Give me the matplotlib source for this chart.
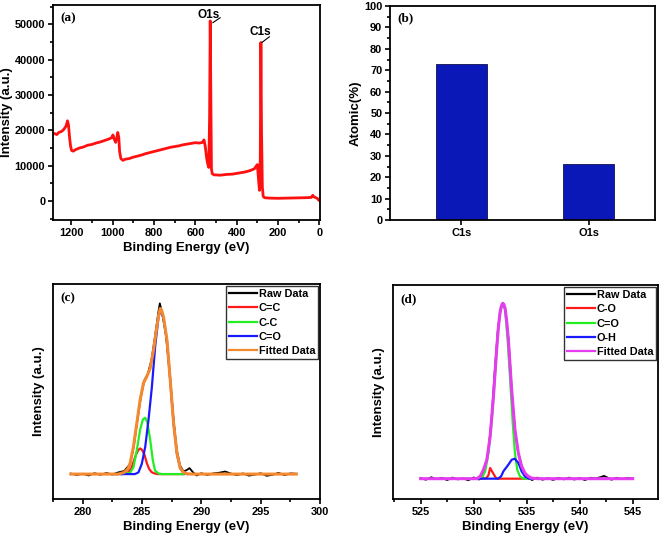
import matplotlib.pyplot as plt
from matplotlib.ticker import MultipleLocator

# ---- (a) survey spectrum
survey_energy = [1290, 1280, 1270, 1260, 1250, 1240, 1232, 1225, 1218, 1213, 1208, 1203, 1198,
                 1190, 1180, 1160, 1140, 1120, 1100, 1080, 1060, 1040, 1020, 1005, 998, 992,
                 985, 980, 975, 970, 966, 960, 950, 940, 920, 900, 880, 860, 840, 820, 800,
                 780, 760, 740, 720, 700, 680, 660, 640, 620, 600, 580, 565, 558, 552, 545,
                 540, 535, 531, 528, 525, 522, 518, 510, 480, 450, 420, 390, 360, 335, 315,
                 305, 300, 297, 293, 290, 286, 283, 280, 276, 272, 265, 240, 200, 160, 120,
                 80, 50, 40, 32, 28, 20, 10, 3, -2]
survey_counts = [18900, 19100, 18800, 19400, 19600, 20000, 20600, 21200, 22700, 21500, 18000,
                 15500, 14300, 14100, 14500, 15000, 15300, 15800, 16000, 16400, 16700, 17100,
                 17500, 17900, 18700, 17500, 16600, 17800, 19400, 18000, 14000, 12000, 11500,
                 11800, 12000, 12400, 12700, 13000, 13400, 13700, 14000, 14300, 14600, 14900,
                 15200, 15400, 15600, 15900, 16100, 16300, 16500, 16400, 16600, 17300, 15500,
                 12000, 10500, 9500, 24000, 51000, 30000, 9000, 7700, 7400, 7300, 7500, 7600,
                 7900, 8200, 8600, 9100, 9900, 10300, 8000, 5000, 3000, 12000, 44900, 20000,
                 4000, 1300, 900, 800, 750, 800, 850, 900, 950, 1000, 1600, 1200, 1000, 700,
                 200, 0]

# ---- (b) atomic percentages
elements = ['C1s', 'O1s']
atomic_pct = [73.1, 26.2]

# ---- (c) C1s high resolution
c_raw_e = [279.0, 279.5, 280.0, 280.5, 281.0, 281.5, 282.0, 282.5, 283.0, 283.5, 284.0, 284.3,
           284.6, 284.9, 285.2, 285.5, 285.8, 286.1, 286.4, 286.5, 286.7, 287.0, 287.3, 287.6,
           287.9, 288.2, 288.5, 288.8, 289.0, 289.3, 289.6, 290.0, 290.5, 291.0, 291.5, 292.0,
           292.5, 293.0, 293.5, 294.0, 294.5, 295.0, 295.5, 296.0, 296.5, 297.0, 297.5, 298.0]
c_raw_i = [0.3, -0.5, 0.2, -0.8, 0.5, -0.4, 0.6, -0.2, 1.0, 1.8, 6.0, 16.0, 31.0, 45.0, 55.0,
           59.0, 67.0, 81.0, 96.0, 100.0, 94.0, 82.0, 62.0, 36.0, 15.0, 5.0, 1.5, 2.5, 3.5,
           1.0, -0.8, 0.5, -0.5, 0.4, 0.8, 1.5, 0.3, -0.6, 0.4, -0.9, -0.3, 0.5, -1.0, -0.4,
           0.7, -0.6, 0.4, 0.2]
c_cc_e = [283.3, 283.8, 284.1, 284.3, 284.5, 284.7, 284.85, 285.0, 285.2, 285.4, 285.6, 285.8,
          286.0, 286.3, 288.5]
c_cc_i = [0, 0.8, 3.5, 7.5, 11.5, 14.3, 15.0, 14.2, 11.5, 6.5, 3.0, 1.2, 0.5, 0, 0]
c_c_c_e = [283.3, 284.0, 284.28, 284.56, 284.84, 285.07, 285.27, 285.46, 285.69, 285.91, 286.1,
           286.4, 286.7, 288.5]
c_c_c_i = [0, 0.8, 4, 14, 26, 32, 33, 30, 20, 8, 2, 0.3, 0, 0]
c_co_e = [282.5, 284.4, 284.7, 284.98, 285.27, 285.55, 285.83, 286.11, 286.39, 286.53, 286.81,
          287.1, 287.38, 287.66, 287.94, 288.22, 288.5, 288.8]
c_co_i = [0, 0, 1, 6, 16, 32, 51, 75, 92, 96, 91.5, 78, 54.5, 29.5, 12, 3.3, 0.8, 0]
c_fit_e = [279.0, 283.0, 283.5, 283.8, 284.0, 284.28, 284.56, 284.84, 285.12, 285.41, 285.69,
           285.97, 286.25, 286.4, 286.53, 286.65, 286.81, 287.1, 287.38, 287.66, 287.94, 288.22,
           288.5, 288.8, 289.2, 298.0]
c_fit_i = [0, 0, 1.0, 3.0, 6.4, 16.2, 29.8, 43.5, 53.3, 57.2, 62, 72.7, 86.4, 93, 97, 96, 92,
           78.5, 55, 29.8, 12.3, 3.5, 1.0, 0.2, 0, 0]

# ---- (d) O1s high resolution
o_raw_e = [525.0, 525.5, 526.0, 526.5, 527.0, 527.5, 528.0, 528.5, 529.0, 529.5, 530.0, 530.5,
           530.8, 531.1, 531.4, 531.7, 532.0, 532.3, 532.6, 532.8, 533.0, 533.3, 533.6, 533.9,
           534.2, 534.5, 534.8, 535.1, 535.5, 536.0, 536.5, 537.0, 537.5, 538.0, 538.5, 539.0,
           539.5, 540.0, 540.5, 541.0, 541.5, 542.0, 542.3, 542.7, 543.0, 543.5, 544.0, 544.5,
           545.0]
o_raw_i = [0.3, -0.6, 0.8, -0.3, 0.5, -0.8, 0.6, -0.4, 0.2, -0.9, 0.7, -0.5, 1.5, 6, 16, 35,
           62, 86, 98, 100, 96, 79, 50, 28, 15, 8, 3.5, 1.5, -0.8, 0.6, -0.6, 0.3, -0.7, 0.5,
           -0.4, 0.6, -0.5, 0.4, -0.8, 0.5, 0.2, 0.9, 1.6, 0.4, -0.6, 0.5, -0.3, 0.4, 0.1]
o_c_o_e = [530.5, 531.2, 531.4, 531.56, 531.8, 532.12, 532.3, 534.9]
o_c_o_i = [0, 0.3, 2.0, 6.1, 3.5, 0.3, 0, 0]
o_c_eq_o_e = [530.3, 530.78, 531.09, 531.4, 531.72, 532.03, 532.34, 532.5, 532.75, 532.97,
              533.2, 533.44, 533.69, 533.9, 534.12, 534.37, 534.7, 535.5]
o_c_eq_o_i = [0, 0.4, 4.2, 14.6, 33.6, 60.2, 86.8, 95, 99.6, 96.5, 80, 57, 31.7, 14.6, 5.1,
              1.3, 0, 0]
o_oh_e = [530.5, 532.3, 532.59, 532.81, 533.28, 533.59, 533.88, 534.22, 534.53, 534.84, 535.2,
          536.0]
o_oh_i = [0, 0, 1.3, 4.2, 8.0, 10.8, 11.4, 9.0, 4.2, 1.3, 0, 0]
o_fit_e = [525.0, 530.3, 530.62, 530.93, 531.25, 531.56, 531.87, 532.19, 532.35, 532.5, 532.62,
           532.75, 532.86, 532.97, 533.12, 533.28, 533.59, 533.9, 534.22, 534.53, 534.84,
           535.15, 535.5, 536.0, 545.0]
o_fit_i = [0, 0, 1.3, 5.1, 10.8, 24.1, 46.8, 75.3, 87, 95.2, 98.5, 100, 99.3, 97.1, 90, 79.1,
           50.6, 27.9, 14.6, 7.0, 3.2, 1.3, 0.3, 0, 0]

plt.rcParams['font.family'] = ['Liberation Sans', 'DejaVu Sans']
plt.rcParams['font.weight'] = 'bold'
plt.rcParams['axes.labelweight'] = 'bold'
plt.rcParams['axes.linewidth'] = 1.3

fig = plt.figure(figsize=(6.61, 5.34), dpi=100)
ax_a = fig.add_axes([0.0802, 0.588, 0.404, 0.4026])
ax_b = fig.add_axes([0.590, 0.588, 0.401, 0.4007])
ax_c = fig.add_axes([0.0802, 0.0655, 0.404, 0.4026])
ax_d = fig.add_axes([0.5946, 0.0655, 0.401, 0.4007])


def style(ax):
    ax.tick_params(which='both', direction='out', top=False, right=False, width=1.2,
                   labelsize=7.9, pad=2)
    ax.tick_params(which='major', length=3.5)
    ax.tick_params(which='minor', length=2)


def tag(ax, s, dy=0.035):
    ax.text(0.026, 1 - dy, s, transform=ax.transAxes, ha='left', va='top',
            family='Liberation Serif', weight='bold', fontsize=9.5)


# (a)
ax_a.plot(survey_energy, survey_counts, color='#ff1010', lw=2.0)
ax_a.set_xlim(1288, -3)
ax_a.set_ylim(-5400, 55500)
ax_a.xaxis.set_major_locator(MultipleLocator(200))
ax_a.xaxis.set_minor_locator(MultipleLocator(100))
ax_a.yaxis.set_major_locator(MultipleLocator(10000))
ax_a.yaxis.set_minor_locator(MultipleLocator(5000))
style(ax_a)
ax_a.set_xlabel('Binding Energy (eV)', fontsize=9.5, labelpad=3)
ax_a.set_ylabel('Intensity (a.u.)', fontsize=9.5, labelpad=1)
ax_a.text(536, 52800, 'O1s', ha='center', va='center', fontsize=8.5)
ax_a.plot([515, 480], [50500, 51900], color='black', lw=0.8)
ax_a.text(287, 47900, 'C1s', ha='center', va='center', fontsize=8.5)
ax_a.plot([278, 242], [44900, 46500], color='black', lw=0.8)
tag(ax_a, '(a)')

# (b)
ax_b.bar([0.25, 0.75], atomic_pct, width=0.2, color='#0b18b8', edgecolor='#101050', lw=0.6)
ax_b.set_xlim(-0.03, 1.01)
ax_b.set_ylim(0, 100)
ax_b.set_xticks([0.25, 0.75])
ax_b.set_xticklabels(elements)
ax_b.yaxis.set_major_locator(MultipleLocator(10))
ax_b.yaxis.set_minor_locator(MultipleLocator(5))
style(ax_b)
ax_b.set_ylabel('Atomic(%)', fontsize=9.5, labelpad=2)
tag(ax_b, '(b)', dy=0.03)

# (c)
ax_c.plot(c_raw_e, c_raw_i, color='black', lw=1.3, label='Raw Data')
ax_c.plot(c_cc_e, c_cc_i, color='#ff1a1a', lw=1.6, label='C=C')
ax_c.plot(c_c_c_e, c_c_c_i, color='#22ee22', lw=1.6, label='C-C')
ax_c.plot(c_co_e, c_co_i, color='#1a1aff', lw=1.6, label='C=O')
ax_c.plot(c_fit_e, c_fit_i, color='#f5892f', lw=2.2, label='Fitted Data')
ax_c.set_xlim(277.5, 300)
ax_c.set_ylim(-14.6, 111.3)
ax_c.xaxis.set_major_locator(MultipleLocator(5))
ax_c.xaxis.set_minor_locator(MultipleLocator(2.5))
style(ax_c)
ax_c.tick_params(which='both', left=False, labelleft=False)
ax_c.set_xlabel('Binding Energy (eV)', fontsize=9.5, labelpad=3)
ax_c.set_ylabel('Intensity (a.u.)', fontsize=9.5, labelpad=6)
tag(ax_c, '(c)', dy=0.04)

# (d)
ax_d.plot(o_raw_e, o_raw_i, color='black', lw=1.3, label='Raw Data')
ax_d.plot(o_c_o_e, o_c_o_i, color='#ff1a1a', lw=1.6, label='C-O')
ax_d.plot(o_c_eq_o_e, o_c_eq_o_i, color='#22ee22', lw=1.6, label='C=O')
ax_d.plot(o_oh_e, o_oh_i, color='#1a1aff', lw=1.6, label='O-H')
ax_d.plot(o_fit_e, o_fit_i, color='#e63cf0', lw=2.2, label='Fitted Data')
ax_d.set_xlim(522.4, 547.4)
ax_d.set_ylim(-11.6, 110.4)
ax_d.xaxis.set_major_locator(MultipleLocator(5))
ax_d.xaxis.set_minor_locator(MultipleLocator(2.5))
style(ax_d)
ax_d.tick_params(which='both', left=False, labelleft=False)
ax_d.set_xlabel('Binding Energy (eV)', fontsize=9.5, labelpad=3)
ax_d.set_ylabel('Intensity (a.u.)', fontsize=9.5, labelpad=6)
tag(ax_d, '(d)', dy=0.04)

for ax in (ax_c, ax_d):
    leg = ax.legend(loc='upper right', fontsize=7.8, frameon=True, fancybox=False,
                    handlelength=2.6, handletextpad=0.15, borderpad=0.25,
                    labelspacing=0.4, borderaxespad=0.2)
    leg.get_frame().set_edgecolor('black')
    leg.get_frame().set_linewidth(1.0)
    for line in leg.get_lines():
        line.set_linewidth(1.6)

fig.savefig('out.png', dpi=100)
